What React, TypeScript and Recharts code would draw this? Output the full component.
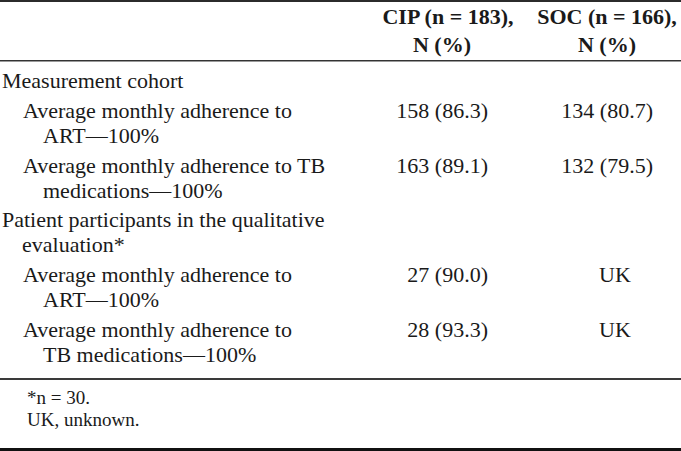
import { Layer, Surface, Text } from 'recharts'

const W = 681
const H = 451

// column headers (two lines each)
const colHeaders = [
  ['CIP (n = 183),', 'N (%)'],
  ['SOC (n = 166),', 'N (%)'],
]

// row labels, pre-broken the way the source wraps them
const rowLabels = [
  ['Measurement cohort'],
  ['Average monthly adherence to', 'ART—100%'],
  ['Average monthly adherence to TB', 'medications—100%'],
  ['Patient participants in the qualitative', 'evaluation*'],
  ['Average monthly adherence to', 'ART—100%'],
  ['Average monthly adherence to', 'TB medications—100%'],
]
const rowLevels = [0, 1, 1, 0, 1, 1]

const cipValues = ['', '158 (86.3)', '163 (89.1)', '', '27 (90.0)', '28 (93.3)']
const socValues = ['', '134 (80.7)', '132 (79.5)', '', 'UK', 'UK']

const footnotes = ['*n = 30.', 'UK, unknown.']

const FONT = '"Liberation Serif", "Times New Roman", serif'
const INK = '#1a1a1a'
const colCenters = [442, 607]
const LINE = 25
const ROW_GAP = 29.75

function Cell({ x, y, text, anchor = 'start', bold = false, size = 22 }: { x: number; y: number; text: string; anchor?: 'start' | 'middle' | 'end'; bold?: boolean; size?: number }) {
  if (!text) return null
  return (
    <Text x={x} y={y} textAnchor={anchor} fontFamily={FONT} fontSize={size} fontWeight={bold ? 700 : 400} fill={INK}>
      {text}
    </Text>
  )
}

export default function App() {
  // baselines for every row's first line
  const starts: number[] = []
  let y = 88
  rowLabels.forEach((lines, i) => {
    if (i > 0) y += ROW_GAP
    starts.push(y)
    y += (lines.length - 1) * LINE
  })

  const colValues = [cipValues, socValues]

  return (
    <div style={{ position: 'absolute', left: 0, top: 0, width: W, height: H, background: '#fff' }}>
      <Surface width={W} height={H}>
        {/* rules */}
        <rect x={0} y={0} width={W} height={2} fill="#2b2b2b" />
        <rect x={0} y={60} width={W} height={1} fill="#333" />
        <rect x={0} y={61} width={W} height={1} fill="#9a9a9a" />
        <rect x={0} y={378} width={W} height={2} fill="#3a3a3a" />
        <rect x={0} y={448} width={W} height={3} fill="#111" />

        {/* header */}
        <Layer>
          {colHeaders.map((lines, c) =>
            lines.map((t, k) => (
              <Cell
                key={`h${c}${k}`}
                x={colCenters[c] + (c === 0 && k === 0 ? 6 : 0)}
                y={24 + k * 28}
                text={t}
                anchor="middle"
                bold
              />
            ))
          )}
        </Layer>

        {/* body */}
        <Layer>
          {rowLabels.map((lines, i) =>
            lines.map((t, k) => (
              <Cell
                key={`r${i}${k}`}
                x={2 + rowLevels[i] * 21 + (k > 0 ? 20 : 0)}
                y={starts[i] + k * LINE}
                text={t}
              />
            ))
          )}
          {colValues.map((vals, c) =>
            vals.map((v, i) =>
              /\d/.test(v) ? (
                <Cell key={`v${c}${i}`} x={colCenters[c] + 46} y={starts[i]} text={v} anchor="end" />
              ) : (
                <Cell key={`v${c}${i}`} x={colCenters[c] + 8} y={starts[i]} text={v} anchor="middle" />
              )
            )
          )}
        </Layer>

        {/* footnotes */}
        <Layer>
          {footnotes.map((t, k) => (
            <Cell key={`f${k}`} x={27} y={404 + k * 22} text={t} size={19} />
          ))}
        </Layer>
      </Surface>
    </div>
  )
}
